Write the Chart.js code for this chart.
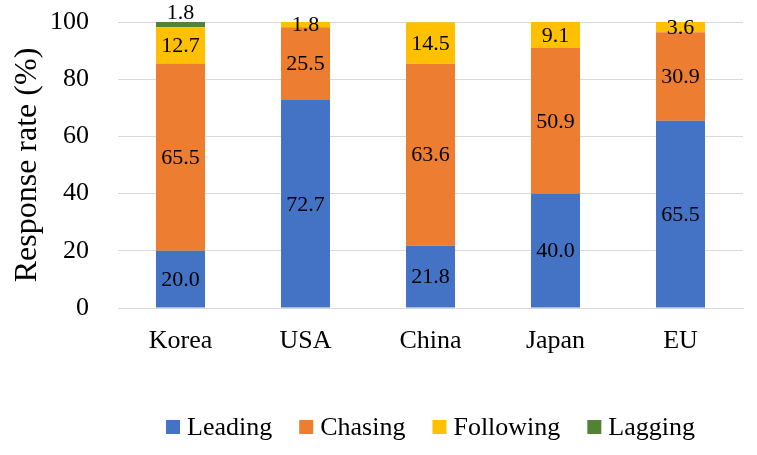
<!DOCTYPE html>
<html lang="en">
<head>
    <meta charset="UTF-8">
    <title>Response rate by region</title>
    <style>
        body { margin: 0; background: #ffffff; }
        #chart-container { width: 757px; height: 455px; }
    </style>
</head>
<body>
    <div id="chart-container">
        <canvas id="rateChart" width="757" height="455"></canvas>
    </div>

    <script src="https://cdn.jsdelivr.net/npm/chart.js"></script>
    <script>
        // Data
        const regions = ['Korea', 'USA', 'China', 'Japan', 'EU'];
        const leading = [20.0, 72.7, 21.8, 40.0, 65.5];
        const chasing = [65.5, 25.5, 63.6, 50.9, 30.9];
        const following = [12.7, 1.8, 14.5, 9.1, 3.6];
        const lagging = [1.8, null, null, null, null];
        const yTicks = [0, 20, 40, 60, 80, 100];

        const serif = '"Liberation Serif", "Times New Roman", serif';

        // Value labels in the middle of each segment
        const segmentLabels = {
            id: 'segmentLabels',
            afterDatasetsDraw(chart) {
                const ctx = chart.ctx;
                ctx.save();
                ctx.font = '22px ' + serif;
                ctx.fillStyle = '#000000';
                ctx.textAlign = 'center';
                ctx.textBaseline = 'middle';
                chart.data.datasets.forEach((ds, di) => {
                    const meta = chart.getDatasetMeta(di);
                    meta.data.forEach((bar, i) => {
                        const v = ds.data[i];
                        if (v === null || v === undefined) return;
                        let y = (bar.y + bar.base) / 2;
                        // thin top segment on Korea: label sits above the bar
                        if (ds.label === 'Lagging') y = bar.y - 10;
                        ctx.fillText(v.toFixed(1), bar.x, y + 1);
                    });
                });
                ctx.restore();
            }
        };

        // Legend drawn by hand so the box/text gaps match Excel's
        const bottomLegend = {
            id: 'bottomLegend',
            afterDraw(chart) {
                const ctx = chart.ctx;
                const box = 14, gapText = 7, gapItem = 27;
                ctx.save();
                ctx.font = '26px ' + serif;
                const items = chart.data.datasets.map(ds => ({
                    text: ds.label,
                    color: ds.backgroundColor,
                    w: ctx.measureText(ds.label).width
                }));
                const total = items.reduce((s, it) => s + box + gapText + it.w, 0) + gapItem * (items.length - 1);
                const area = chart.chartArea;
                let x = (area.left + area.right) / 2 - total / 2;
                const cy = 427;
                ctx.textBaseline = 'middle';
                ctx.textAlign = 'left';
                items.forEach(it => {
                    ctx.fillStyle = it.color;
                    ctx.fillRect(x, cy - box / 2, box, box);
                    ctx.fillStyle = '#000000';
                    ctx.fillText(it.text, x + box + gapText, cy + 1);
                    x += box + gapText + it.w + gapItem;
                });
                ctx.restore();
            }
        };

        const ctx = document.getElementById('rateChart').getContext('2d');
        const rateChart = new Chart(ctx, {
            type: 'bar',
            data: {
                labels: regions,
                datasets: [
                    { label: 'Leading', data: leading, backgroundColor: '#4472C4' },
                    { label: 'Chasing', data: chasing, backgroundColor: '#ED7D31' },
                    { label: 'Following', data: following, backgroundColor: '#FFC000' },
                    { label: 'Lagging', data: lagging, backgroundColor: '#548235' }
                ]
            },
            options: {
                responsive: false,
                animation: false,
                devicePixelRatio: 1,
                layout: { padding: { top: 22, right: 14, bottom: 87, left: 0 } },
                datasets: {
                    bar: { barPercentage: 0.392, categoryPercentage: 1 }
                },
                plugins: {
                    tooltip: { enabled: false },
                    legend: { display: false }
                },
                scales: {
                    x: {
                        stacked: true,
                        grid: { display: false, drawTicks: false },
                        border: { display: true, color: '#d9d9d9' },
                        ticks: {
                            color: '#000000',
                            padding: 18,
                            font: { family: serif, size: 26 }
                        },
                        afterFit: scale => { scale.height = 60; }
                    },
                    y: {
                        stacked: true,
                        min: 0,
                        max: 100,
                        afterBuildTicks: scale => {
                            scale.ticks = yTicks.map(v => ({ value: v }));
                        },
                        grid: { color: '#d9d9d9', drawTicks: false },
                        border: { display: false },
                        ticks: {
                            color: '#000000',
                            padding: 29,
                            font: { family: serif, size: 26 }
                        },
                        title: {
                            display: true,
                            text: 'Response rate (%)',
                            color: '#000000',
                            padding: { top: 8, bottom: 0 },
                            font: { family: serif, size: 32 }
                        },
                        afterFit: scale => {
                            scale.width = 118;
                            scale.paddingTop = 0;
                            scale.paddingBottom = 0;
                        }
                    }
                }
            },
            plugins: [segmentLabels, bottomLegend]
        });
    </script>
</body>
</html>
